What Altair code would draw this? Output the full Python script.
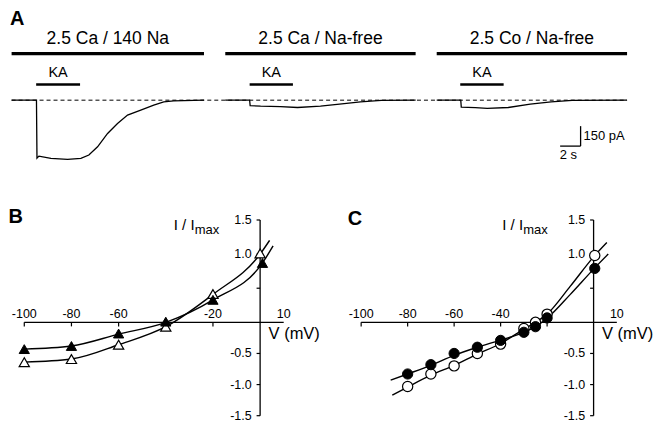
import altair as alt
import pandas as pd

FONT = "Liberation Sans"

# ---------------- Panel A data (time in s, current in pA) ----------------
segment_labels = ["2.5 Ca / 140 Na", "2.5 Ca / Na-free", "2.5 Co / Na-free"]
segment_start_s = [0.0, 20.88, 41.54]
segment_end_s = [18.8, 39.48, 60.14]
ka_start_s = [2.4, 23.26, 43.84]
ka_end_s = [6.69, 27.49, 48.08]

trace1_t = [0.0, 2.43, 2.48, 2.67, 3.84, 5.47, 6.77, 7.55, 8.4, 9.38, 10.35, 11.33, 12.62, 13.89, 14.87, 15.84, 18.8]
trace1_pA = [0, 0, -435, -420, -437, -445, -437, -412, -350, -250, -175, -112, -75, -37, -13, -5, 0]
trace2_t = [20.88, 23.26, 23.31, 24.33, 26.28, 27.94, 30.18, 32.04, 34.09, 36.13, 39.48]
trace2_pA = [0, 0, -41, -45, -49, -55, -45, -30, -13, -2, 0]
trace3_t = [41.54, 43.89, 43.94, 45.31, 46.48, 48.53, 50.68, 52.72, 54.77, 60.14]
trace3_pA = [0, 0, -52, -56, -62, -55, -30, -13, -2, 0]

scalebar_t = [53.6, 55.6]        # 2 s
scalebar_pA = [-195, -345]       # 150 pA
scalebar_labels = ["150 pA", "2 s"]

# ---------------- Panel B data (V in mV, I/Imax) ----------------
b_filled_v = [-100, -80, -60, -40, -20, 1]
b_filled_i = [-0.43, -0.38, -0.18, 0.01, 0.33, 0.87]
b_open_v = [-100, -80, -60, -40, -20, 0]
b_open_i = [-0.64, -0.59, -0.36, -0.07, 0.415, 1.01]
b_fit_filled_v = [-100, -80, -60, -40, -20, 1, 5.5]
b_fit_filled_i = [-0.43, -0.38, -0.19, 0.0, 0.33, 0.87, 1.12]
b_fit_open_v = [-100, -80, -60, -40, -20, 0, 4]
b_fit_open_i = [-0.64, -0.59, -0.36, -0.07, 0.41, 1.0, 1.2]

# ---------------- Panel C data ----------------
c_v = [-80, -70, -60, -50, -40, -30, -25, -20, 0.5]
c_filled_i = [-0.83, -0.68, -0.50, -0.40, -0.29, -0.16, -0.07, 0.065, 0.79]
c_open_i = [-1.03, -0.83, -0.70, -0.50, -0.35, -0.10, 0.0, 0.12, 0.98]
c_fit_filled_v = [-87.3, -80, -70, -60, -50, -40, -30, -25, -20, -10, 0, 6.3]
c_fit_filled_i = [-0.93, -0.83, -0.69, -0.53, -0.40, -0.285, -0.16, -0.07, 0.06, 0.41, 0.78, 1.0]
c_fit_open_v = [-86.6, -80, -70, -60, -50, -40, -30, -25, -20, -10, 0, 5.7]
c_fit_open_i = [-1.17, -1.04, -0.85, -0.69, -0.51, -0.34, -0.11, 0.0, 0.12, 0.53, 0.96, 1.17]

x_tick_vals = [-100, -80, -60, -40, -20]
b_x_labels = ["-100", "-80", "-60", "-20", "10"]
c_x_labels = ["-100", "-80", "-60", "-40", "10"]
y_tick_vals = [1.5, 1.0, 0.5, -0.5, -1.0, -1.5]
y_label_vals = [1.5, 1.0, -0.5, -1.0, -1.5]
y_labels = ["1.5", "1.0", "-0.5", "-1.0", "-1.5"]

# ================= Panel A =================
A_W, A_H = 647, 164
xsA = alt.Scale(domain=[-0.254, 62.87], nice=False, zero=False)
ysA = alt.Scale(domain=[-540, 690], nice=False, zero=False)

trace_rows = []
for k, (ts, cs) in enumerate([(trace1_t, trace1_pA), (trace2_t, trace2_pA), (trace3_t, trace3_pA)]):
    for j, (t, c) in enumerate(zip(ts, cs)):
        trace_rows.append({"seg": k, "idx": j, "t": t, "pA": c})
trace_df = pd.DataFrame(trace_rows)

seg_df = pd.DataFrame({"start": segment_start_s, "end": segment_end_s, "label": segment_labels})
seg_df["mid"] = (seg_df["start"] + seg_df["end"]) / 2
seg_df["ybar"] = 350.0
seg_df["ytxt"] = 457.0
ka_df = pd.DataFrame({"start": ka_start_s, "end": ka_end_s, "label": ["KA"] * 3})
ka_df["mid"] = (ka_df["start"] + ka_df["end"]) / 2
ka_df["ybar"] = 118.0
ka_df["ytxt"] = 204.0

base_df = pd.DataFrame({"x0": [segment_start_s[0]], "x1": [segment_end_s[-1]], "y0": [0.0]})

def XA(f):
    return alt.X(f, type="quantitative", scale=xsA, axis=None)

def YA(f):
    return alt.Y(f, type="quantitative", scale=ysA, axis=None)

baseline = alt.Chart(base_df).mark_rule(color="black", strokeWidth=1, strokeDash=[4, 3]).encode(
    x=XA("x0"), x2="x1", y=YA("y0")
)
traces = alt.Chart(trace_df).mark_line(color="black", strokeWidth=1.3).encode(
    x=XA("t"), y=YA("pA"), detail="seg:N", order="idx:Q"
)
sol_bars = alt.Chart(seg_df).mark_rule(color="black", strokeWidth=3.3).encode(
    x=XA("start"), x2="end", y=YA("ybar")
)
sol_text = alt.Chart(seg_df).mark_text(font=FONT, fontSize=17.5, color="black", baseline="middle").encode(
    x=XA("mid"), y=YA("ytxt"), text="label:N"
)
ka_bars = alt.Chart(ka_df).mark_rule(color="black", strokeWidth=2.6).encode(
    x=XA("start"), x2="end", y=YA("ybar")
)
ka_text = alt.Chart(ka_df).mark_text(font=FONT, fontSize=14.5, color="black", baseline="middle").encode(
    x=XA("mid"), y=YA("ytxt"), text="label:N"
)
sb_df = pd.DataFrame({"t0": [scalebar_t[0]], "t1": [scalebar_t[1]],
                      "p0": [scalebar_pA[0]], "p1": [scalebar_pA[1]]})
sb_v = alt.Chart(sb_df).mark_rule(color="black", strokeWidth=1.3).encode(
    x=XA("t1"), y=YA("p0"), y2="p1"
)
sb_h = alt.Chart(sb_df).mark_rule(color="black", strokeWidth=1.3).encode(
    x=XA("t0"), x2="t1", y=YA("p1")
)
lab_df = pd.DataFrame({
    "x": [scalebar_t[1], 54.4, 0.55],
    "y": [-266.0, -412.0, 611.0],
    "txt": [scalebar_labels[0], scalebar_labels[1], "A"],
    "kind": ["pa", "s", "letter"],
})
sb_t1 = alt.Chart(lab_df).transform_filter("datum.kind == 'pa'").mark_text(
    font=FONT, fontSize=13, align="left", baseline="middle", dx=3).encode(
    x=XA("x"), y=YA("y"), text="txt:N")
sb_t2 = alt.Chart(lab_df).transform_filter("datum.kind == 's'").mark_text(
    font=FONT, fontSize=13, align="center", baseline="middle").encode(
    x=XA("x"), y=YA("y"), text="txt:N")
letterA = alt.Chart(lab_df).transform_filter("datum.kind == 'letter'").mark_text(
    font=FONT, fontSize=20, fontWeight="bold", align="center", baseline="middle").encode(
    x=XA("x"), y=YA("y"), text="txt:N")

panelA = alt.layer(baseline, traces, sol_bars, sol_text, ka_bars, ka_text,
                   sb_v, sb_h, sb_t1, sb_t2, letterA).properties(width=A_W, height=A_H)

# ================= Panels B & C =================
IV_H = 252


def iv_panel(width, xdom, letter, letter_v, letter_i, fits, pts, shape, x_labels, x_label_vals, imax_v):
    xs = alt.Scale(domain=xdom, nice=False, zero=False)
    ys = alt.Scale(domain=[-1.5, 0, 1.5], range=[244, 150.5, 48], nice=False, zero=False)

    def X(f):
        return alt.X(f, type="quantitative", scale=xs, axis=None)

    def Y(f):
        return alt.Y(f, type="quantitative", scale=ys, axis=None)

    layers = []
    hax = pd.DataFrame({"x0": [-100.0], "x1": [10.0], "y0": [0.0]})
    layers.append(alt.Chart(hax).mark_rule(color="black", strokeWidth=1.3).encode(
        x=X("x0"), x2="x1", y=Y("y0")))
    vax = pd.DataFrame({"x0": [0.0], "y0": [-1.5], "y1": [1.5]})
    layers.append(alt.Chart(vax).mark_rule(color="black", strokeWidth=1.3).encode(
        x=X("x0"), y=Y("y0"), y2="y1"))
    xt = pd.DataFrame({"v": x_tick_vals, "y0": 0.0, "y1": -0.065})
    layers.append(alt.Chart(xt).mark_rule(color="black", strokeWidth=1.2).encode(
        x=X("v"), y=Y("y0"), y2="y1"))
    yt = pd.DataFrame({"v": y_tick_vals, "x0": -1.5, "x1": 0.0})
    layers.append(alt.Chart(yt).mark_rule(color="black", strokeWidth=1.2).encode(
        x=X("x0"), x2="x1", y=Y("v")))
    xl = pd.DataFrame({"v": x_label_vals, "lab": x_labels, "y": 0.125})
    layers.append(alt.Chart(xl).mark_text(font=FONT, fontSize=12.5, baseline="middle").encode(
        x=X("v"), y=Y("y"), text="lab:N"))
    yl = pd.DataFrame({"v": y_label_vals, "lab": y_labels, "x": -3.6})
    layers.append(alt.Chart(yl).mark_text(font=FONT, fontSize=12.5, align="right", baseline="middle").encode(
        x=X("x"), y=Y("v"), text="lab:N"))
    # axis titles and panel letter
    tdf = pd.DataFrame({
        "x": [3.6, imax_v, imax_v, letter_v],
        "y": [-0.19, 1.355, 1.30, letter_i],
        "txt": ["V (mV)", "I / I", "max", letter],
        "kind": ["v", "i", "max", "letter"],
    })
    layers.append(alt.Chart(tdf).transform_filter("datum.kind == 'v'").mark_text(
        font=FONT, fontSize=16.5, align="left", baseline="middle").encode(
        x=X("x"), y=Y("y"), text="txt:N"))
    layers.append(alt.Chart(tdf).transform_filter("datum.kind == 'i'").mark_text(
        font=FONT, fontSize=15, align="left", baseline="alphabetic").encode(
        x=X("x"), y=Y("y"), text="txt:N"))
    layers.append(alt.Chart(tdf).transform_filter("datum.kind == 'max'").mark_text(
        font=FONT, fontSize=13, align="left", baseline="alphabetic", dx=21).encode(
        x=X("x"), y=Y("y"), text="txt:N"))
    layers.append(alt.Chart(tdf).transform_filter("datum.kind == 'letter'").mark_text(
        font=FONT, fontSize=20, fontWeight="bold", align="center", baseline="middle").encode(
        x=X("x"), y=Y("y"), text="txt:N"))
    # fit curves
    for k, (fv, fi) in enumerate(fits):
        fdf = pd.DataFrame({"v": fv, "i": fi, "idx": list(range(len(fv)))})
        layers.append(alt.Chart(fdf).mark_line(color="black", strokeWidth=1.4, interpolate="monotone").encode(
            x=X("v"), y=Y("i"), order="idx:Q"))
    # points: open first, filled on top
    (ov, oi), (fv2, fi2) = pts
    odf = pd.DataFrame({"v": ov, "i": oi})
    layers.append(alt.Chart(odf).mark_point(shape=shape, filled=True, fill="white", stroke="black",
                                            strokeWidth=1.2, size=105, opacity=1).encode(x=X("v"), y=Y("i")))
    fdf2 = pd.DataFrame({"v": fv2, "i": fi2})
    layers.append(alt.Chart(fdf2).mark_point(shape=shape, filled=True, fill="black", stroke="black",
                                             strokeWidth=1.0, size=105, opacity=1).encode(x=X("v"), y=Y("i")))
    return alt.layer(*layers).properties(width=width, height=IV_H)


panelB = iv_panel(
    327, [-106.48, 31.96], "B", -103.6, 1.545,
    [(b_fit_open_v, b_fit_open_i), (b_fit_filled_v, b_fit_filled_i)],
    [(b_open_v, b_open_i), (b_filled_v, b_filled_i)],
    "triangle-up", b_x_labels, [-100, -80, -60, -20, 10], -36.6,
)
panelC = iv_panel(
    320, [-111.04, 26.42], "C", -102.7, 1.515,
    [(c_fit_open_v, c_fit_open_i), (c_fit_filled_v, c_fit_filled_i)],
    [(c_v, c_open_i), (c_v, c_filled_i)],
    "circle", c_x_labels, [-100, -80, -60, -40, 10], -39.3,
)

chart = alt.vconcat(
    panelA,
    alt.hconcat(panelB, panelC, spacing=0, bounds="flush"),
    spacing=0, bounds="flush",
).properties(padding=0).configure_view(stroke=None)

chart.save("out.html", embed_options={"renderer": "svg", "actions": False})
